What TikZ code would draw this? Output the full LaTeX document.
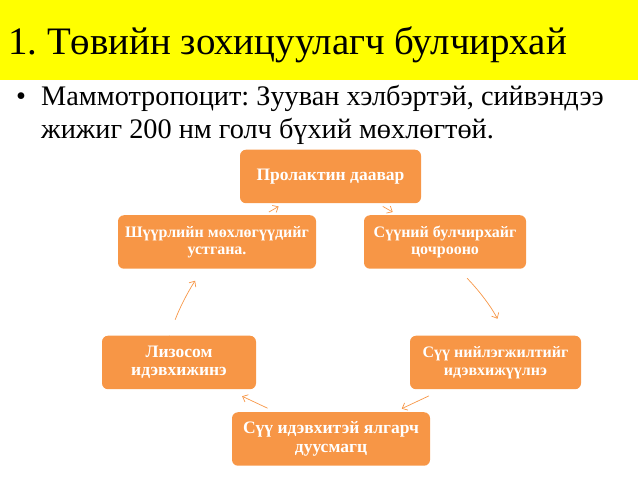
\documentclass[tikz,border=0pt]{standalone}
\usepackage{fontspec}
\setmainfont{Liberation Serif}
\usetikzlibrary{arrows.meta}
\definecolor{boxorange}{HTML}{F79646}
\definecolor{titleyellow}{HTML}{FFFF00}
\frenchspacing
\tikzset{
  stepbox/.style={draw=none,fill=boxorange,rounded corners=6pt,text=white,align=center,
    inner sep=0pt,minimum height=53.5pt,font=\bfseries\fontsize{16}{17.5}\selectfont},
  bigstep/.style={stepbox,font=\bfseries\fontsize{17.5}{18.5}\selectfont},
  cyclearrow/.style={draw=boxorange,line width=0.7pt,->,>={Straight Barb[length=4.5pt,width=8pt]}}
}
\begin{document}
\begin{tikzpicture}[x=1pt,y=-1pt]
   \useasboundingbox (0,0) rectangle (638,478);
   \fill[titleyellow] (0,0) rectangle (638,80);
   \node[anchor=west,inner sep=0pt,font=\fontsize{38.9}{44}\selectfont] (title) at (8,45) {1. Төвийн зохицуулагч булчирхай};
   \node[anchor=west,inner sep=0pt,font=\fontsize{28.3}{33}\selectfont] (bullet) at (16,99) {•};
   \node[anchor=north west,inner sep=0pt,align=left,font=\fontsize{28.3}{33}\selectfont] (body) at (41,85) {Маммотропоцит: Зууван хэлбэртэй, сийвэндээ\\жижиг 200 нм голч бүхий мөхлөгтөй.};

   \node[bigstep,minimum width=181pt] (prolactin) at (330.5,176.5) {Пролактин даавар};
   \node[stepbox,minimum width=162pt] (gland) at (445,242) {Сүүний булчирхайг\\цочрооно};
   \node[stepbox,minimum width=171pt] (synthesis) at (495.5,362.5) {Сүү нийлэгжилтийг\\идэвхижүүлнэ};
   \node[bigstep,minimum width=198pt] (secretion) at (331,439) {Сүү идэвхитэй ялгарч\\дуусмагц};
   \node[bigstep,minimum width=154pt] (lysosome) at (179,362.5) {Лизосом\\идэвхижинэ};
   \node[stepbox,minimum width=198pt] (granules) at (217,242) {Шүүрлийн мөхлөгүүдийг\\устгана.};

   \path[cyclearrow]
   (prolactin) edge [shorten <=6pt,shorten >=6pt] (gland)
   (gland.-64) edge [bend left=8,shorten <=13pt,shorten >=19pt] (synthesis.68)
   (synthesis.-153) edge [shorten <=15pt,shorten >=8pt] (secretion.23)
   (secretion.154) edge [shorten <=9pt,shorten >=16pt] (lysosome.-29)
   (lysosome.110) edge [bend left=6,shorten <=17pt,shorten >=14pt] (granules.-118)
   (granules) edge [shorten <=6pt,shorten >=6pt] (prolactin);
\end{tikzpicture}
\end{document}
